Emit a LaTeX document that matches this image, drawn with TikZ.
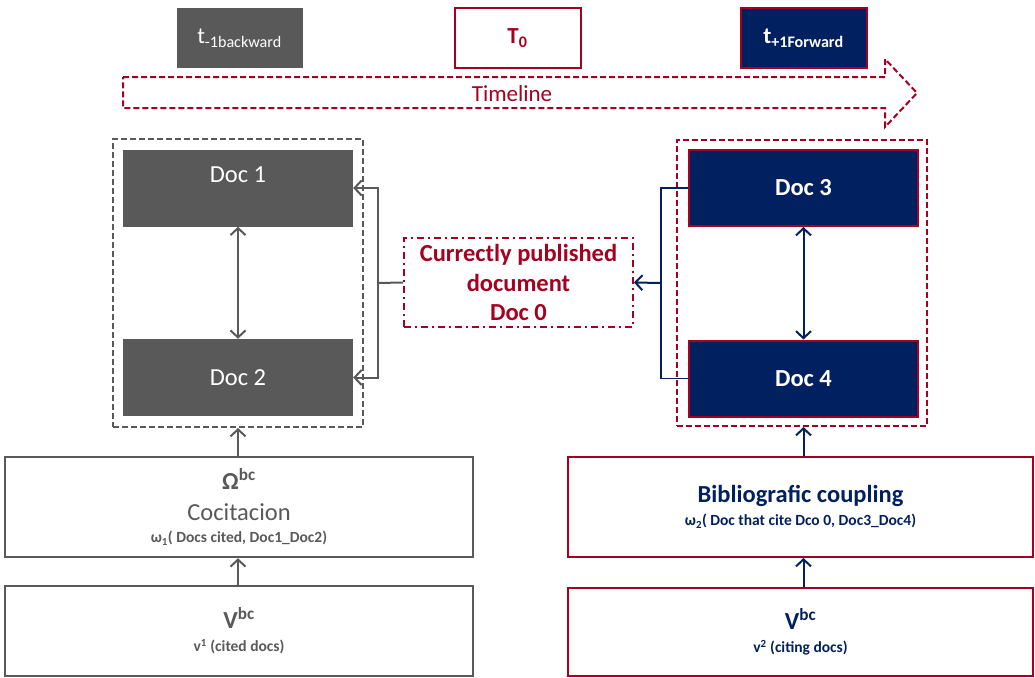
\documentclass[tikz,border=0pt]{standalone}
\usepackage{fontspec}
\setmainfont{Carlito}
\usetikzlibrary{arrows.meta}

\definecolor{dgray}{RGB}{89,89,89}
\definecolor{dred}{RGB}{165,0,33}
\definecolor{navy}{RGB}{0,32,96}

\newcommand{\bigfont}{\fontsize{24.5}{29.5}\selectfont}
\newcommand{\timefont}{\fontsize{23}{28}\selectfont}
\newcommand{\smallfont}{\fontsize{15.5}{19}\selectfont}

\begin{document}
\begin{tikzpicture}[x=1pt,y=-1pt,
    >={Straight Barb[length=7pt,width=15pt]},
    link/.style={line width=2pt},
    grpbox/.style={rectangle,line width=2pt,dash pattern=on 6pt off 3pt,minimum width=250pt},
    docbox/.style={rectangle,inner sep=0pt,text=white,font=\bigfont}
  ]

      \useasboundingbox (0,0) rectangle (1035,677);

      % time labels
      \begin{scope}[every node/.style={rectangle,inner sep=0pt,minimum width=126pt,minimum height=59pt,font=\timefont}]
        \node[fill=dgray,text=white] (tback) at (239.5,38) {t\textsubscript{-1backward}};
        \node[draw=dred,line width=2pt,text=dred,font=\timefont\bfseries] (tzero) at (517.5,38) {T\textsubscript{0}};
        \node[fill=navy,draw=dred,line width=2pt,text=white,font=\timefont\bfseries] (tfwd) at (803.5,38) {t\textsubscript{+1Forward}};
      \end{scope}

      \draw[dred,line width=2pt,dash pattern=on 6pt off 3pt]
        (123,77) -- (885,77) -- (885,59) -- (917,93) -- (885,127) -- (885,108) -- (123,108) -- cycle;
      \node[text=dred,font=\timefont] (tline) at (512,94) {Timeline};

      % groups of documents
      \node[grpbox,draw=dgray,minimum height=288pt] (grpL) at (238,283) {};
      \node[grpbox,draw=dred,minimum height=286pt] (grpR) at (802,283) {};

      \begin{scope}[every node/.style={docbox,minimum width=230pt,minimum height=77pt,fill=dgray}]
        \node[text depth=26pt] (doc1) at (238,188) {Doc 1};
        \node (doc2) at (238,377.5) {Doc 2};
      \end{scope}

      \begin{scope}[every node/.style={docbox,minimum width=229pt,minimum height=76pt,fill=navy,draw=dred,line width=2pt,font=\bigfont\bfseries}]
        \node (doc3) at (803.5,188) {Doc 3};
        \node (doc4) at (803.5,378.5) {Doc 4};
      \end{scope}

      \node[rectangle,draw=dred,line width=2pt,dash pattern=on 7pt off 4pt on 2pt off 4pt,
        minimum width=229pt,minimum height=89pt,inner sep=0pt,align=center,
        text=dred,font=\bigfont\bfseries] (doc0) at (518.5,282.5)
        {Currectly published\\document\\Doc 0};

      % measures
      \begin{scope}[every node/.style={rectangle,inner sep=0pt,minimum width=468pt,align=center,font=\bigfont}]
        \node[draw=dgray,line width=2.5pt,minimum height=100pt,text=dgray] (cocit) at (239,507)
          {\textbf{Ω\textsuperscript{bc}}\\[1.5pt]
           Cocitacion\\[-7.5pt]
           {\smallfont\bfseries ω\textsubscript{1}( Docs cited, Doc1\_Doc2)}};
        \node[draw=dgray,line width=2.5pt,minimum height=90pt,text=dgray] (vcited) at (239,631)
          {\textbf{V\textsuperscript{bc}}\\[-6.5pt]
           {\smallfont\bfseries v\textsuperscript{1} (cited docs)}};
      \end{scope}

      \begin{scope}[every node/.style={rectangle,inner sep=0pt,minimum width=465pt,align=center,draw=dred,line width=2pt,text=navy,font=\bigfont\bfseries}]
        \node[minimum height=100pt] (biblio) at (800.5,507)
          {Bibliografic coupling\\[-6.5pt]
           {\smallfont ω\textsubscript{2}( Doc that cite Dco 0, Doc3\_Doc4)}};
        \node[minimum height=88pt] (vciting) at (800.5,632)
          {V\textsuperscript{bc}\\[-6.5pt]
           {\smallfont v\textsuperscript{2} (citing docs)}};
      \end{scope}

      % connectors
      \coordinate (jL) at (378,283);
      \coordinate (jR) at (661,283);

      \begin{scope}[every path/.style={link,draw=dgray}]
        \draw[<->] (doc1) -- (doc2);
        \draw (doc0.west) -- (jL);
        \draw[->] (jL) |- (doc1.east);
        \draw[->] (jL) |- (doc2.east);
        \draw[->] (cocit.north -| doc1) -- (grpL.south -| doc1);
        \draw[->] (vcited.north -| doc1) -- (cocit.south -| doc1);
      \end{scope}

      \begin{scope}[every path/.style={link,draw=navy}]
        \draw[<->] (doc3) -- (doc4);
        \draw[line width=1.6pt] (doc3.west) -| (jR);
        \draw[line width=1.6pt] (doc4.west) -| (jR);
        \draw[->] (jR) -- (doc0.east);
        \draw[->] (biblio.north -| doc3) -- (grpR.south -| doc3);
        \draw[->] (vciting.north -| doc3) -- (biblio.south -| doc3);
      \end{scope}

    \end{tikzpicture}
\end{document}
